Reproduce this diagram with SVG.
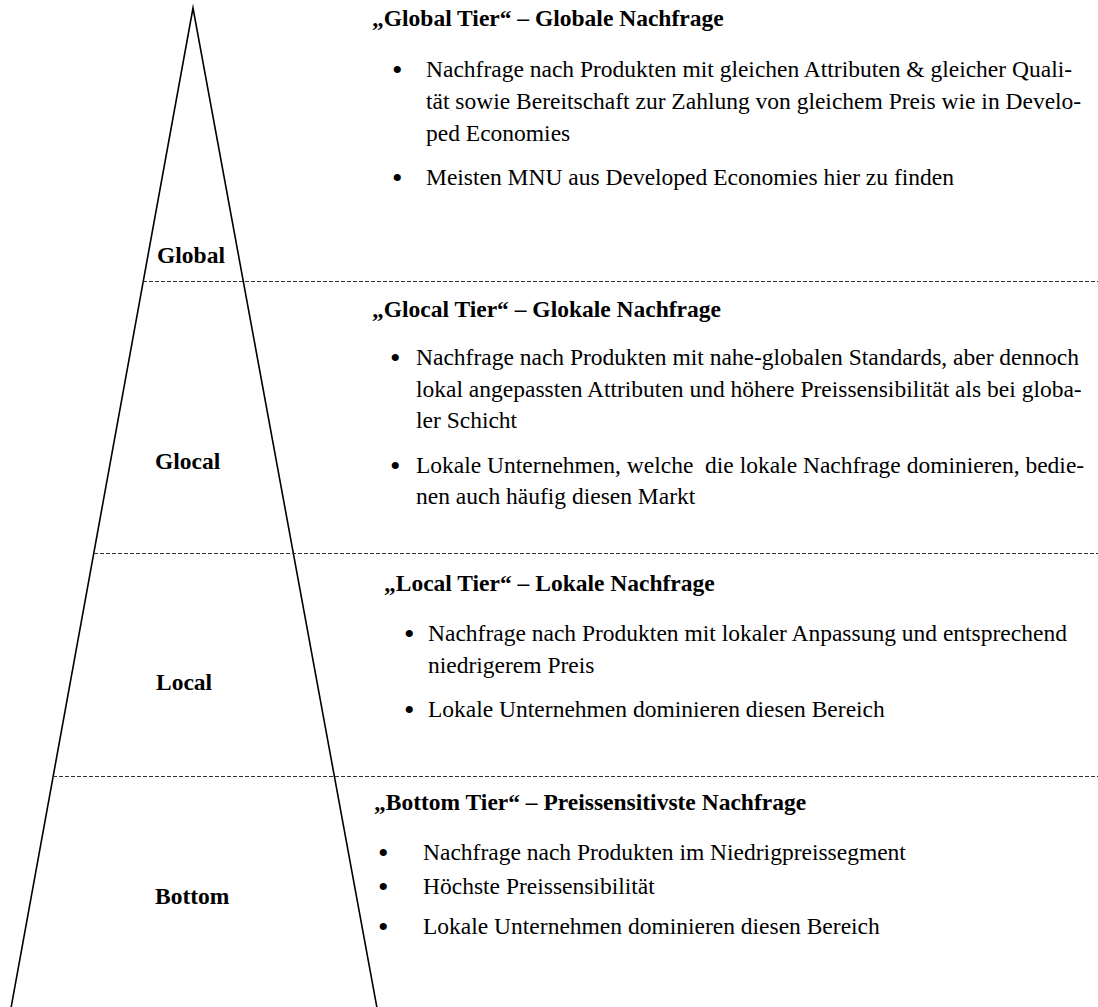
<svg xmlns="http://www.w3.org/2000/svg" width="1098" height="1007" viewBox="0 0 1098 1007">
<style>
text { font-family: "Liberation Serif", "Times New Roman", serif; font-size: 23.5px; fill: #000; }
.b { font-weight: bold; }
.bl { font-size: 30px; }
.py { fill: none; stroke: #000; stroke-width: 1.6; stroke-miterlimit: 20; }
.sep { stroke: #333; stroke-width: 1; stroke-dasharray: 4 2; fill: none; }
</style>
<rect width="1098" height="1007" fill="#fff"/>
<g id="connectors">
<path class="py" d="M11,1008 L193,8 L377,1008"/>
<line class="sep" x1="143" y1="281.5" x2="1098" y2="281.5"/>
<line class="sep" x1="94" y1="553.5" x2="1098" y2="553.5"/>
<line class="sep" x1="53" y1="776.5" x2="1098" y2="776.5"/>
</g>
<g id="global">
<text class="b" x="157" y="263">Global</text>
<text class="b" x="372" y="26">„Global Tier“ – Globale Nachfrage</text>
<text class="bl" x="392" y="80">•</text>
<text x="426" y="77">Nachfrage nach Produkten mit gleichen Attributen &amp; gleicher Quali-</text>
<text x="426" y="109">tät sowie Bereitschaft zur Zahlung von gleichem Preis wie in Develo-</text>
<text x="426" y="141">ped Economies</text>
<text class="bl" x="392" y="188">•</text>
<text x="426" y="185">Meisten MNU aus Developed Economies hier zu finden</text>
</g>
<g id="glocal">
<text class="b" x="155" y="469">Glocal</text>
<text class="b" x="372" y="317">„Glocal Tier“ – Glokale Nachfrage</text>
<text class="bl" x="390" y="368">•</text>
<text x="416" y="365">Nachfrage nach Produkten mit nahe-globalen Standards, aber dennoch</text>
<text x="416" y="397">lokal angepassten Attributen und höhere Preissensibilität als bei globa-</text>
<text x="416" y="428">ler Schicht</text>
<text class="bl" x="390" y="476">•</text>
<text x="416" y="473" xml:space="preserve">Lokale Unternehmen, welche  die lokale Nachfrage dominieren, bedie-</text>
<text x="416" y="504">nen auch häufig diesen Markt</text>
</g>
<g id="local">
<text class="b" x="156" y="690">Local</text>
<text class="b" x="384" y="591">„Local Tier“ – Lokale Nachfrage</text>
<text class="bl" x="404" y="644">•</text>
<text x="428" y="641">Nachfrage nach Produkten mit lokaler Anpassung und entsprechend</text>
<text x="428" y="673">niedrigerem Preis</text>
<text class="bl" x="404" y="720">•</text>
<text x="428" y="717">Lokale Unternehmen dominieren diesen Bereich</text>
</g>
<g id="bottom">
<text class="b" x="155" y="904">Bottom</text>
<text class="b" x="374" y="810">„Bottom Tier“ – Preissensitivste Nachfrage</text>
<text class="bl" x="378" y="863">•</text>
<text x="423" y="860">Nachfrage nach Produkten im Niedrigpreissegment</text>
<text class="bl" x="378" y="897">•</text>
<text x="423" y="894">Höchste Preissensibilität</text>
<text class="bl" x="378" y="937">•</text>
<text x="423" y="934">Lokale Unternehmen dominieren diesen Bereich</text>
</g>
</svg>
